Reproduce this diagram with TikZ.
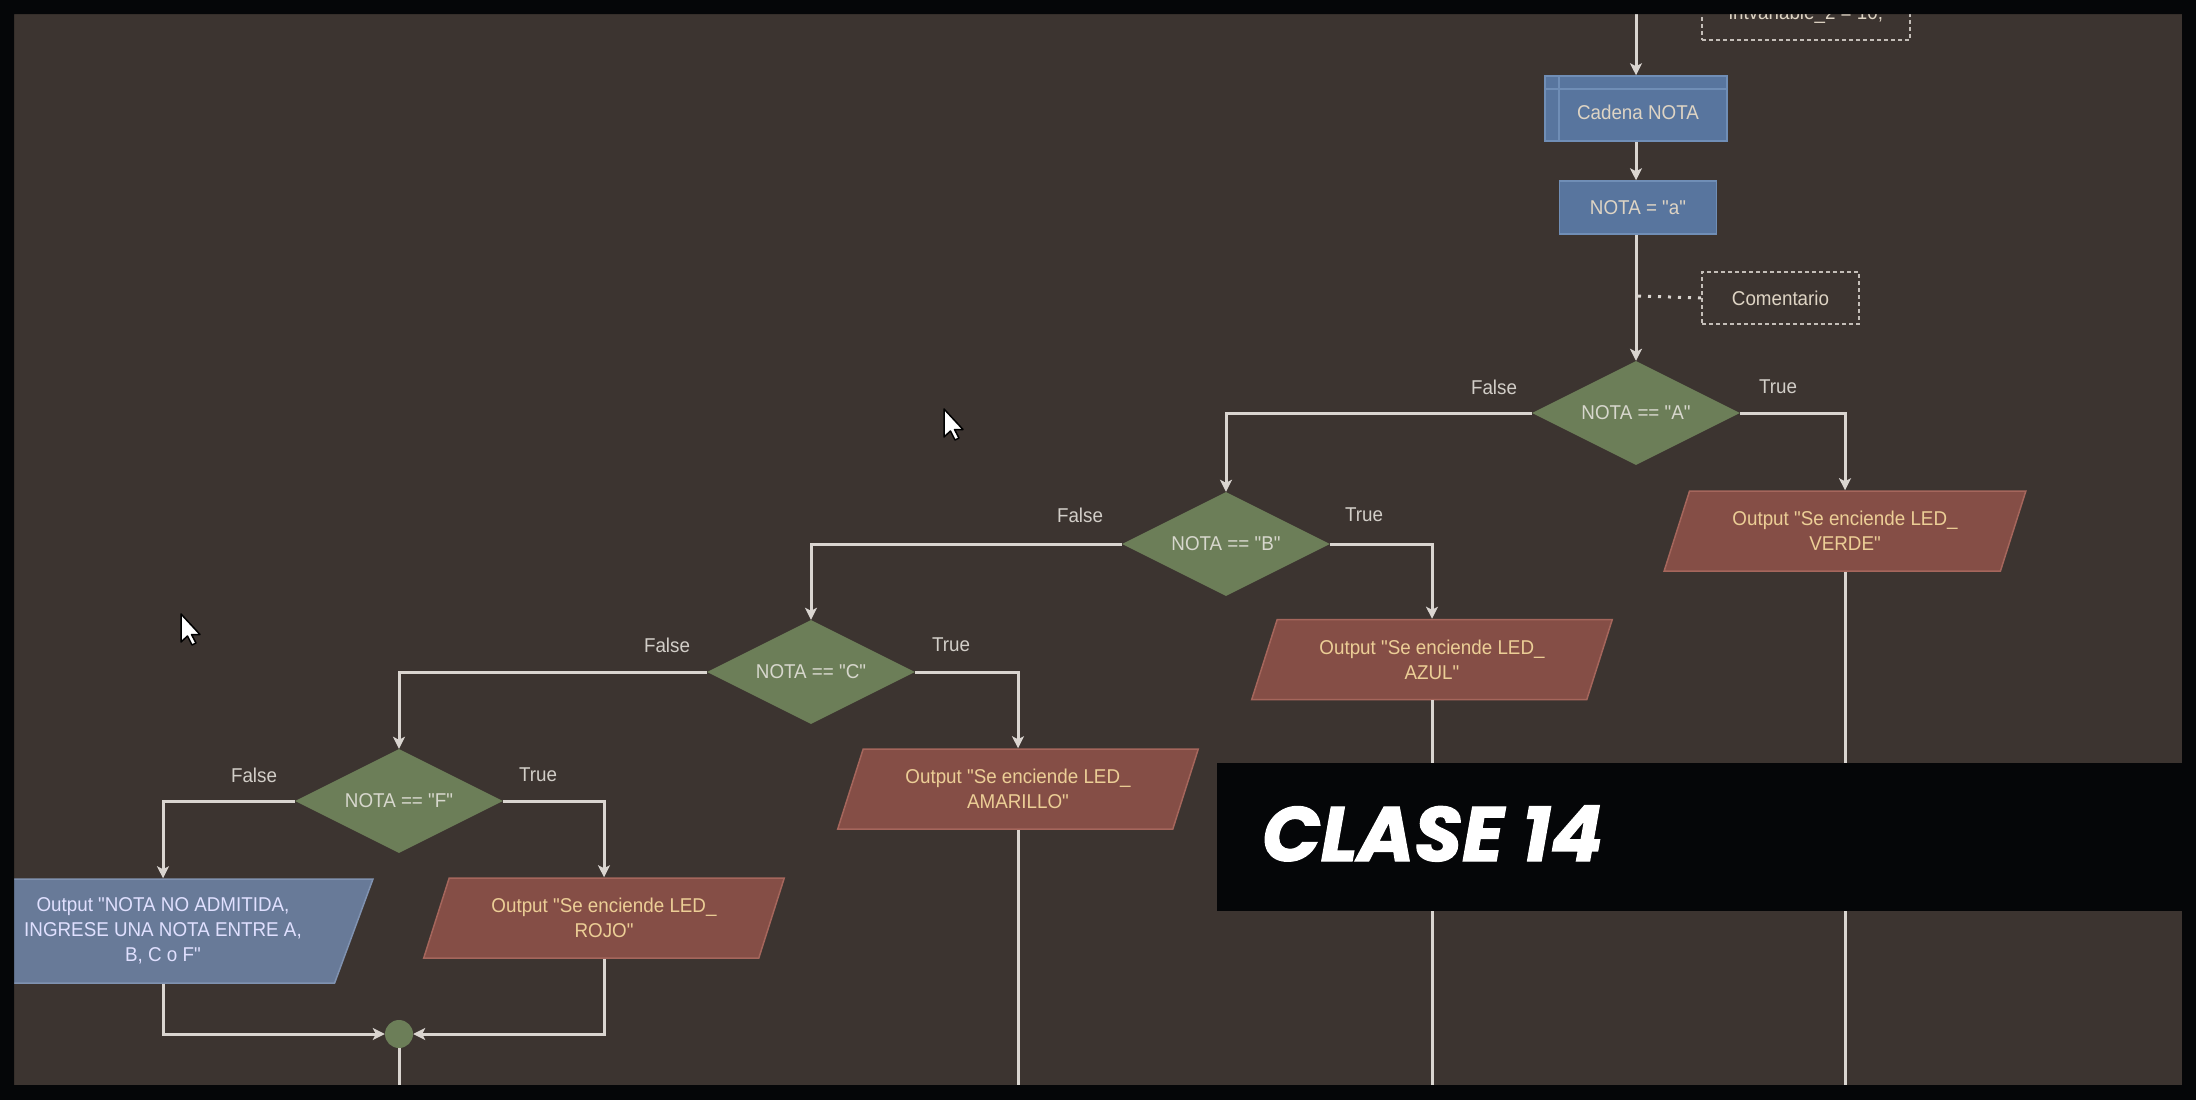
\documentclass[tikz,border=0pt]{standalone}
\usepackage{fontspec}
\setmainfont{Liberation Sans}[FakeStretch=0.94, Ligatures=TeXOff]
\newfontfamily\bannerfont{Poppins}[BoldItalicFeatures={FakeBold=1.5}]
\usetikzlibrary{shapes.geometric,arrows.meta}
\definecolor{bgc}{RGB}{60,52,48}
\definecolor{framec}{RGB}{5,6,8}
\definecolor{linec}{RGB}{218,213,208}
\definecolor{greenc}{RGB}{108,126,88}
\definecolor{redc}{RGB}{133,78,70}
\definecolor{redb}{RGB}{165,102,92}
\definecolor{redtext}{RGB}{236,206,150}
\definecolor{bluec}{RGB}{88,117,158}
\definecolor{blueb}{RGB}{112,142,182}
\definecolor{greyblue}{RGB}{104,122,152}
\definecolor{greyblueb}{RGB}{128,146,176}
\definecolor{bluetext}{RGB}{222,212,196}
\definecolor{diamtext}{RGB}{215,215,205}
\definecolor{labc}{RGB}{210,206,200}
\definecolor{dashc}{RGB}{196,190,184}
\newcommand\nodefont{\fontsize{20}{25}\selectfont}
\begin{document}
\begin{tikzpicture}[x=1pt,y=-1pt,
  conn/.style={draw=linec, line width=3pt},
  arr/.style={conn, -{Stealth[length=12pt,width=12pt,inset=3pt]}},
  dotline/.style={draw=linec, line width=3pt, dash pattern=on 3pt off 7pt},
  dec/.style={diamond, aspect=2, minimum width=208pt, minimum height=104pt,
    fill=greenc, inner sep=0pt, text=diamtext, font=\nodefont},
  outred/.style={trapezium, trapezium left angle=65, trapezium right angle=115,
    trapezium stretches=true, minimum width=362pt, minimum height=80pt,
    fill=redc, draw=redb, line width=1.5pt, text=redtext, align=center,
    font=\nodefont, inner sep=0pt},
  outblue/.style={outred, minimum width=420pt, minimum height=104pt,
    fill=greyblue, draw=greyblueb, text=white!88!blue},
  procbox/.style={rectangle, fill=bluec, draw=blueb, line width=1.5pt,
    text=bluetext, font=\nodefont, inner sep=0pt},
  note/.style={rectangle, draw=dashc, line width=1.5pt,
    dash pattern=on 4pt off 3pt, text=bluetext, font=\nodefont, inner sep=0pt},
  lab/.style={text=labc, font=\nodefont, inner sep=0pt},
  cursor/.style={fill=white, draw=black, line width=1.5pt, line join=round}]

\useasboundingbox (0,0) rectangle (2196,1100);
\clip (0,0) rectangle (2196,1100);

% background
\fill[bgc] (0,0) rectangle (2196,1100);

% top part
\coordinate (topin) at (1636,0);
\node[note, minimum width=208pt, minimum height=52pt] (intv) at (1806,14) {intvariable\_2 = 10;};
\node[procbox, minimum width=182pt, minimum height=65pt] (cad) at (1636,108.5) {};
\draw[blueb, line width=1.5pt] (1559,76) -- (1559,141);
\draw[blueb, line width=1.5pt] (1545,89) -- (1727,89);
\node[text=bluetext, font=\nodefont] at (1638,112) {Cadena NOTA};
\node[procbox, minimum width=157pt, minimum height=53pt] (asg) at (1638,207.5) {NOTA = "a"};
\node[note, minimum width=157pt, minimum height=52pt] (com) at (1780.5,298) {Comentario};
\coordinate (cm) at (1638,296);

% decisions
\node[dec] (dA) at (1636,413) {NOTA == "A"};
\node[dec] (dB) at (1226,544) {NOTA == "B"};
\node[dec] (dC) at (811,672) {NOTA == "C"};
\node[dec] (dF) at (399,801) {NOTA == "F"};

% outputs
\node[outred] (verde) at (1845,531) {Output "Se enciende LED\_\\VERDE"};
\node[outred] (azul) at (1432,659.5) {Output "Se enciende LED\_\\AZUL"};
\node[outred] (amar) at (1018,789) {Output "Se enciende LED\_\\AMARILLO"};
\node[outred] (rojo) at (604,918) {Output "Se enciende LED\_\\ROJO"};
\node[outblue] (nadm) at (163,931) {Output "NOTA NO ADMITIDA,\\INGRESE UNA NOTA ENTRE A,\\B, C o F"};
\node[circle, fill=greenc, minimum size=28pt, inner sep=0pt] (join) at (399,1034) {};

% labels
\node[lab] at (1494,387) {False};
\node[lab] at (1778,387) {True};
\node[lab] at (1080,515) {False};
\node[lab] at (1364,515) {True};
\node[lab] at (667,645) {False};
\node[lab] at (951,645) {True};
\node[lab] at (254,775) {False};
\node[lab] at (538,775) {True};

% connectors
\coordinate (bot) at (0,1100);
\draw[arr] (topin) -- (cad);
\draw[arr] (cad) -- (cad.south |- asg.north);
\draw[arr] (asg.south -| dA.north) -- (dA.north);
\draw[dotline] (cm) -- (com.west);
\draw[arr] (dA.west) -| (dB.north);
\draw[arr] (dA.east) -| (verde.north);
\draw[arr] (dB.west) -| (dC.north);
\draw[arr] (dB.east) -| (azul.north);
\draw[arr] (dC.west) -| (dF.north);
\draw[arr] (dC.east) -| (amar.north);
\draw[arr] (dF.west) -| (nadm.north);
\draw[arr] (dF.east) -| (rojo.north);
\draw[arr] (nadm.south) |- (join.west);
\draw[arr] (rojo.south) |- (join.east);
\draw[conn] (join.south) -- (join.south |- bot);
\draw[conn] (amar.south) -- (amar.south |- bot);
\draw[conn] (azul.south) -- (azul.south |- bot);
\draw[conn] (verde.south) -- (verde.south |- bot);

% mouse cursors
\path[cursor] (944,409) -- ++(0,28) -- ++(6.5,-6) -- ++(4.5,9) -- ++(4,-2) -- ++(-4.5,-8.5) -- ++(8.5,0) -- cycle;
\path[cursor] (181,614) -- ++(0,28) -- ++(6.5,-6) -- ++(4.5,9) -- ++(4,-2) -- ++(-4.5,-8.5) -- ++(8.5,0) -- cycle;

% frame
\fill[framec, even odd rule] (0,0) rectangle (2196,1100) (14,14) rectangle (2182,1085);

% banner
\fill[framec] (1217,763) rectangle (2182,911);
\node[anchor=base west, text=white, inner sep=0pt,
  font=\bannerfont\bfseries\itshape\fontsize{77}{77}\selectfont] (title) at (1262,861) {CLASE 14};
\end{tikzpicture}
\end{document}
